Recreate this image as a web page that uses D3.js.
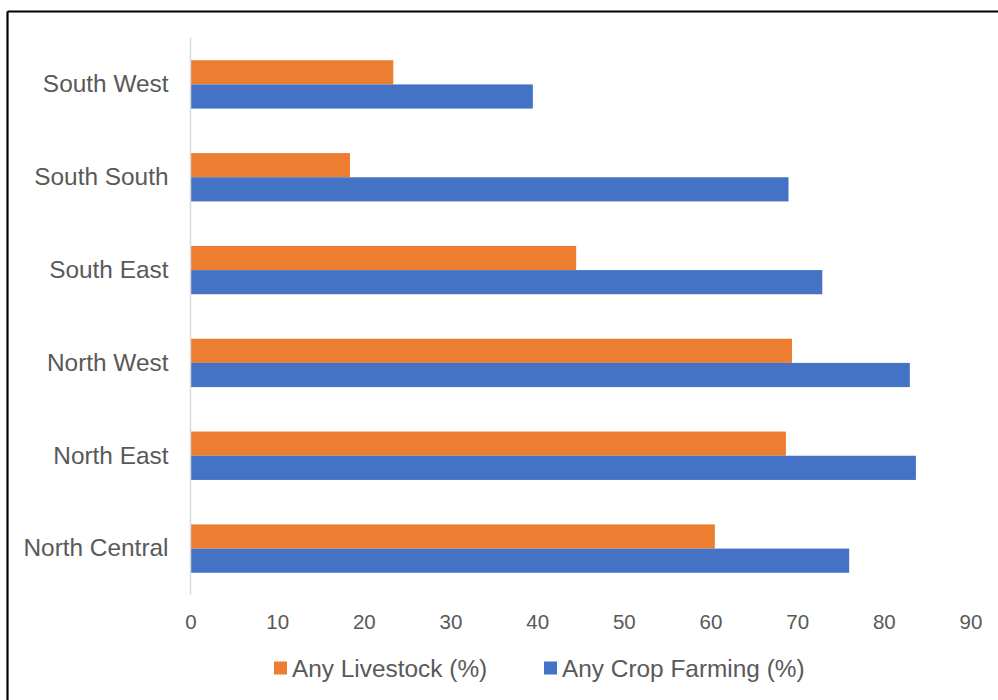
<!DOCTYPE html>
<html>
<head>
<meta charset="utf-8">
<script src="https://cdn.jsdelivr.net/npm/d3@7/dist/d3.min.js"></script>
<style>
  html, body { margin: 0; padding: 0; background: #fff; }
  svg { display: block; font-family: "Liberation Sans", Arial, sans-serif; }
</style>
</head>
<body>
<svg id="chart" width="998" height="700"></svg>
<script>
// Regions, top to bottom
const regions = ["South West", "South South", "South East", "North West", "North East", "North Central"];
// Share of households (%)
const livestock = [23.4, 18.4, 44.5, 69.4, 68.7, 60.5];
const cropFarming = [39.5, 69.0, 72.9, 83.0, 83.7, 76.0];
const seriesNames = ["Any Livestock (%)", "Any Crop Farming (%)"];
const seriesColors = ["#ED7D31", "#4472C4"];
const xTicks = [0, 10, 20, 30, 40, 50, 60, 70, 80, 90];

const svg = d3.select("#chart");
const textColor = "#595959";

// frame
svg.append("line").attr("x1", 7.5).attr("x2", 998).attr("y1", 11.5).attr("y2", 11.5)
  .attr("stroke", "#000").attr("stroke-width", 2.2);
svg.append("line").attr("x1", 7.5).attr("x2", 7.5).attr("y1", 11.5).attr("y2", 700)
  .attr("stroke", "#000").attr("stroke-width", 2.2);

const x = d3.scaleLinear().domain([0, 90]).range([190.5, 970.5]);
const y = d3.scaleBand().domain(regions).range([38, 595]).padding(0);
const ySub = d3.scaleBand().domain(seriesNames).range([0, y.bandwidth()])
  .paddingInner(0).paddingOuter(0.92);

const rows = regions.map((r, i) => ({ region: r, values: [livestock[i], cropFarming[i]] }));

const g = svg.append("g");
const groups = g.selectAll("g.row").data(rows).join("g")
  .attr("class", "row")
  .attr("transform", d => `translate(0,${y(d.region)})`);

groups.selectAll("rect").data(d => d.values.map((v, k) => ({ v, k })))
  .join("rect")
  .attr("x", x(0))
  .attr("y", d => ySub(seriesNames[d.k]))
  .attr("width", d => x(d.v) - x(0))
  .attr("height", ySub.bandwidth())
  .attr("fill", d => seriesColors[d.k]);

// vertical axis line
svg.append("line").attr("x1", x(0)).attr("x2", x(0)).attr("y1", 38).attr("y2", 595)
  .attr("stroke", "#d9d9d9").attr("stroke-width", 1.5);

// category labels
const yAxis = d3.axisLeft(y).tickSize(0).tickPadding(22);
const ya = svg.append("g").attr("transform", `translate(${x(0)},0)`).call(yAxis);
ya.select(".domain").remove();
ya.selectAll("text").attr("fill", textColor).style("font-size", "24.4px")
  .style("font-family", "'Liberation Sans', Arial, sans-serif");

// value axis labels
const xAxis = d3.axisBottom(x).tickValues(xTicks).tickSize(0).tickPadding(0);
const xa = svg.append("g").attr("transform", `translate(0,622)`).call(xAxis);
xa.select(".domain").remove();
xa.selectAll("text").attr("fill", textColor).attr("dy", "0.35em").attr("y", 0)
  .style("font-size", "20.5px")
  .style("font-family", "'Liberation Sans', Arial, sans-serif");

// legend
const legendItems = [
  { name: seriesNames[0], color: seriesColors[0], x: 274 },
  { name: seriesNames[1], color: seriesColors[1], x: 544 }
];
const lg = svg.append("g").selectAll("g").data(legendItems).join("g")
  .attr("transform", d => `translate(${d.x},668)`);
lg.append("rect").attr("x", 0).attr("y", -6.5).attr("width", 13).attr("height", 13)
  .attr("fill", d => d.color);
lg.append("text").attr("x", 18).attr("y", 0).attr("dy", "0.35em")
  .attr("fill", textColor).style("font-size", "24.4px").text(d => d.name);
</script>
</body>
</html>
